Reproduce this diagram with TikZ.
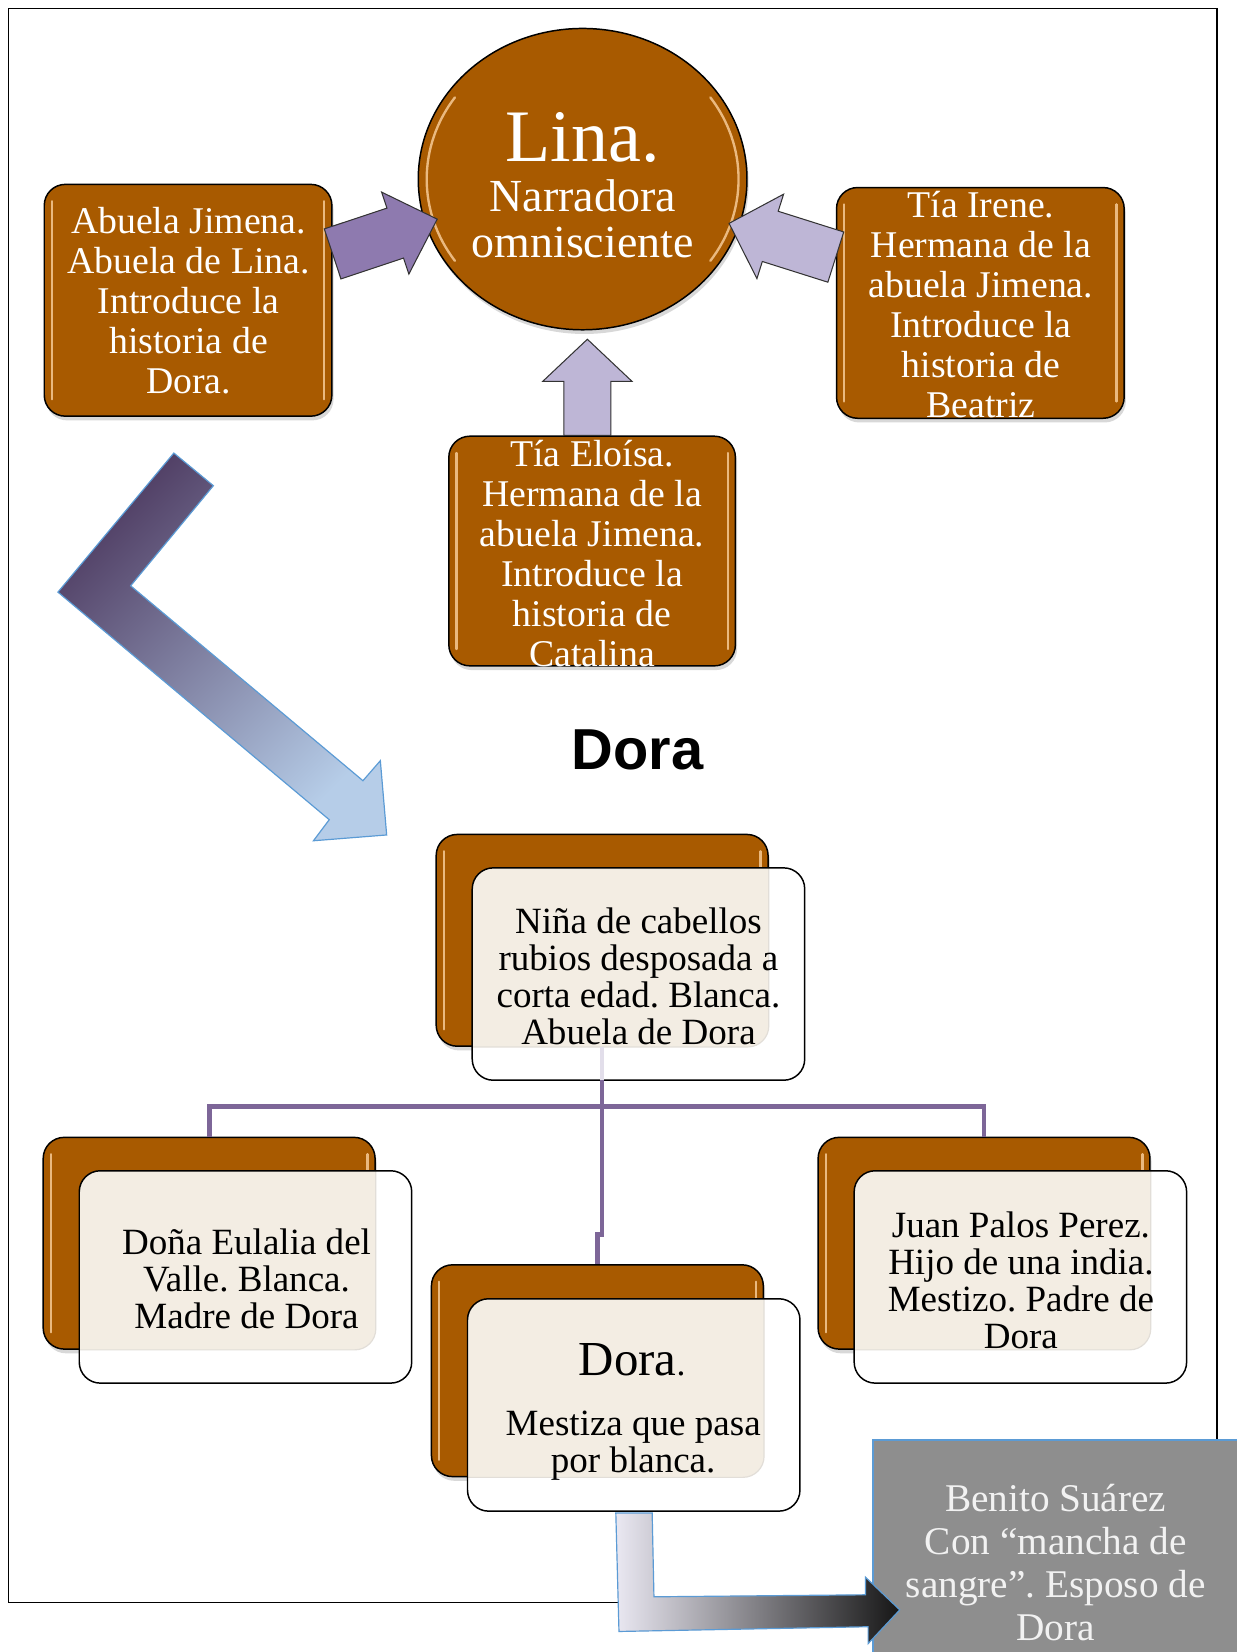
\documentclass[tikz,border=0pt]{standalone}
\usepackage{fontspec}
\setmainfont{Liberation Serif}
\setsansfont{Liberation Sans}
\usetikzlibrary{shapes.geometric,shadows,calc}
\definecolor{boxbrown}{RGB}{168,90,0}
\definecolor{glosscol}{RGB}{246,202,150}
\definecolor{creamcol}{RGB}{243,237,227}
\definecolor{faintcol}{RGB}{226,222,216}
\definecolor{arrowpurple}{RGB}{142,122,175}
\definecolor{arrowlav}{RGB}{190,182,214}
\definecolor{orgcol}{RGB}{125,102,152}
\definecolor{orgfaint}{RGB}{226,222,234}
\definecolor{chevdark}{RGB}{80,62,100}
\definecolor{chevlight}{RGB}{182,205,232}
\definecolor{edgeblue}{RGB}{91,155,213}
\definecolor{benitogray}{RGB}{142,142,142}
\definecolor{bentlight}{RGB}{234,232,242}
\definecolor{bentdark}{RGB}{22,22,22}
\definecolor{benitotext}{RGB}{242,242,242}

% #1 style, #2 tail, #3 tip, #4 shaft half width, #5 head half width, #6 head length
\newcommand\blockarrow[6]{%
  \coordinate (ba-h) at ($(#3)!#6!(#2)$);
  \filldraw[#1] ($(#2)!#4!90:(#3)$) -- ($(ba-h)!#4!90:(#3)$) -- ($(ba-h)!#5!90:(#3)$) -- (#3)
    -- ($(ba-h)!#5!-90:(#3)$) -- ($(ba-h)!#4!-90:(#3)$) -- ($(#2)!#4!-90:(#3)$) -- cycle;
}

\tikzset{
  glossline/.style={draw=glosscol, line width=1.6pt, line cap=round, opacity=0.85},
  brownbox/.style={draw=black, line width=1pt, fill=boxbrown, rounded corners=5mm, inner sep=0pt,
    drop shadow={shadow xshift=0.4mm, shadow yshift=-1mm, opacity=0.3},
    path picture={
      \draw[glossline] ($(path picture bounding box.north west)+(1.8mm,-4mm)$) -- ($(path picture bounding box.south west)+(1.8mm,4mm)$);
      \draw[glossline] ($(path picture bounding box.north east)+(-1.8mm,-4mm)$) -- ($(path picture bounding box.south east)+(-1.8mm,4mm)$);
    }},
  bigbox/.style={brownbox, minimum width=68.25mm, minimum height=55mm},
  whitetext/.style={text=white, align=center, inner sep=0pt, font=\fontsize{25.5}{27}\selectfont},
  orgbox/.style={minimum width=78.75mm, minimum height=50.25mm, inner sep=0pt},
  frontedge/.style={draw=black, line width=1pt, rounded corners=5mm},
  faintedge/.style={draw=faintcol, line width=0.8pt, rounded corners=5mm},
  orgtext/.style={text=black, align=center, inner sep=0pt, font=\fontsize{25}{25}\selectfont},
  orgline/.style={draw=orgcol, line width=3.2pt},
  arrowedge/.style={draw=black!80, line width=0.7pt, line join=miter},
  linagloss/.style={path picture={
      \draw[glossline] ($(path picture bounding box.center)+(145:37mm and 33.8mm)$) arc[start angle=145, end angle=215, x radius=37mm, y radius=33.8mm];
      \draw[glossline] ($(path picture bounding box.center)+(-35:37mm and 33.8mm)$) arc[start angle=-35, end angle=35, x radius=37mm, y radius=33.8mm];
    }},
}

\newcommand\orgpair[3]{%
  \node[brownbox, orgbox] (#1back) at (#2) {};
  \node[orgbox, fill=white, rounded corners=5mm] (#1front) at (#3) {};
  \begin{scope}
    \clip[rounded corners=5mm] (#1front.south west) rectangle (#1front.north east);
    \fill[creamcol, rounded corners=5mm] (#1back.south west) rectangle (#1back.north east);
    \draw[faintedge] (#1back.south west) rectangle (#1back.north east);
  \end{scope}
  \draw[frontedge] (#1front.south west) rectangle (#1front.north east);
}

\begin{document}
\frenchspacing
\begin{tikzpicture}[x=0.25mm, y=-0.25mm]
\useasboundingbox (0,0) rectangle (1174,1568);
\clip (0,0) rectangle (1174,1568);
\fill[white] (0,0) rectangle (1174,1568);

% outer frame
\draw[line width=1.2pt] (8,8) rectangle (1155,1521);

% narrator
\node[ellipse, draw=black, line width=1pt, fill=boxbrown, minimum width=78mm, minimum height=71.5mm, inner sep=0pt,
  drop shadow={shadow xshift=0.4mm, shadow yshift=-1mm, opacity=0.3}, linagloss] (lina) at (553,170) {};
\node[text=white, anchor=base, inner sep=0pt, font=\fontsize{50}{50}\selectfont] (linaname) at (553,153) {Lina.};
\node[text=white, anchor=base, inner sep=0pt, font=\fontsize{31}{31}\selectfont] (linanarr) at (553,201) {Narradora};
\node[text=white, anchor=base, inner sep=0pt, font=\fontsize{31}{31}\selectfont] (linaomni) at (553,244) {omnisciente};

% story boxes
\node[bigbox] (abuela) at (178.5,285) {};
\node[bigbox, minimum height=54.75mm] (irene) at (930.5,287.5) {};
\node[bigbox, minimum width=68mm, minimum height=54.5mm] (eloisa) at (562,523) {};

% block arrows to narrator
\coordinate (a1s) at ($(abuela.east)+(0,-44)$);
\coordinate (a1e) at (415,208);
\blockarrow{fill=arrowpurple, arrowedge}{a1s}{a1e}{6.25mm}{10.25mm}{10.5mm}
\coordinate (a2s) at ($(irene.west)+(0,-43.5)$);
\coordinate (a2e) at (692,212);
\blockarrow{fill=arrowlav, arrowedge}{a2s}{a2e}{6.25mm}{10.5mm}{10.25mm}
\coordinate (a3s) at ($(eloisa.north)+(-4.5,0)$);
\coordinate (a3e) at (557.5,322);
\blockarrow{fill=arrowlav, arrowedge}{a3s}{a3e}{5.6mm}{10.6mm}{10mm}

\node[whitetext] (abuela-t) at (179,285) {Abuela Jimena.\\Abuela de Lina.\\Introduce la\\historia de\\Dora.};
\node[whitetext] (irene-t) at (931,289) {Tía Irene.\\Hermana de la\\abuela Jimena.\\Introduce la\\historia de\\Beatriz};
\node[whitetext] (eloisa-t) at (562,525) {Tía Eloísa.\\Hermana de la\\abuela Jimena.\\Introduce la\\historia de\\Catalina};

% big chevron arrow
\shadedraw[top color=chevdark, bottom color=chevlight, shading angle=45, draw=edgeblue, line width=0.8pt, line join=miter]
  (165,430) -- (202.5,461) -- (124,556) -- (344.5,741) -- (361,722) -- (367,792.5)
  -- (297.5,798) -- (312.5,778) -- (55,562) -- cycle;

% heading
\node[font=\sffamily\bfseries\fontsize{39}{40}\selectfont, inner sep=0pt] (dorahead) at (605,712) {Dora};

% family tree
\orgpair{top}{571.5,892.5}{606,924.5}
\orgpair{left}{198.5,1180}{233,1212}
\orgpair{right}{934,1180}{968.5,1212}
\orgpair{mid}{567,1301}{601.5,1333.5}

\path (0,1050) coordinate (bar) (0,1172) coordinate (jog);
\draw[orgline, draw=orgfaint] (topback.south) -- (topback.south |- topfront.south);
\draw[orgline] (topback.south |- topfront.south) -- (topback.south |- bar);
\draw[orgline] (leftback.north) -- (leftback.north |- bar) -- (rightback.north |- bar) -- (rightback.north);
\draw[orgline] (topback.south |- bar) -- (topback.south |- jog) -- (midback.north |- jog) -- (midback.north);

\node[orgtext] (top-t) at (606,927) {Niña de cabellos\\rubios desposada a\\corta edad. Blanca.\\Abuela de Dora};
\node[orgtext] (left-t) at (234,1214) {Doña Eulalia del\\Valle. Blanca.\\Madre de Dora};
\node[orgtext] (right-t) at (969,1215) {Juan Palos Perez.\\Hijo de una india.\\Mestizo. Padre de\\Dora};
\node[anchor=base, inner sep=0pt, font=\fontsize{33}{33}\selectfont] (mid-name) at (600,1306) {Dora{\fontsize{24}{24}\selectfont.}};
\node[orgtext] (mid-t) at (601,1372) {Mestiza que pasa\\por blanca.};

% husband
\node[draw=edgeblue, line width=1pt, fill=benitogray, anchor=north west, minimum width=88mm, minimum height=52.5mm, inner sep=0pt] (benito) at (828,1366) {};
\shadedraw[left color=bentlight, right color=bentdark, draw=edgeblue, line width=0.8pt, line join=miter]
  (584.5,1436) -- (619,1436) -- (620.7,1515.6) -- (821.5,1513.7) -- (821.5,1497) -- (854,1528)
  -- (824,1560) -- (824,1544) -- (587.5,1548.5) -- cycle;
\node[text=benitotext, align=center, inner sep=0pt, font=\fontsize{26.5}{29}\selectfont] (benito-t) at (1002,1483) {Benito Suárez\\Con “mancha de\\sangre”. Esposo de\\Dora};
\end{tikzpicture}
\end{document}
